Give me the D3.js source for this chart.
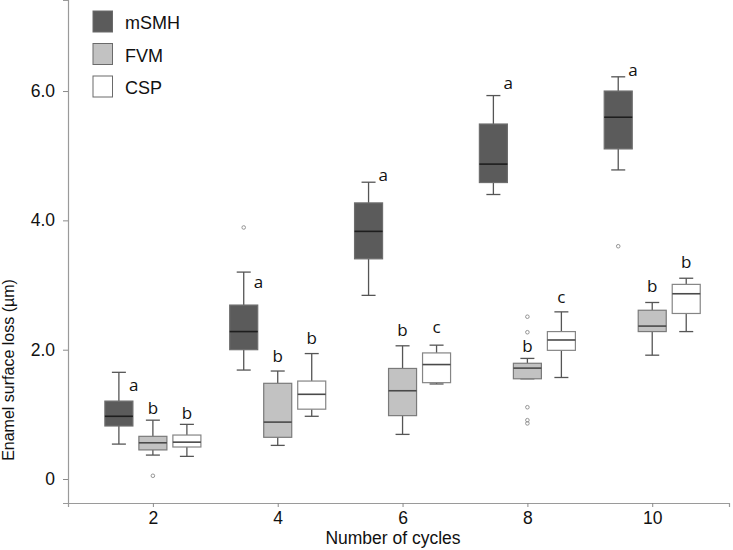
<!DOCTYPE html>
<html>
<head>
<meta charset="utf-8">
<script src="https://cdn.jsdelivr.net/npm/d3@7"></script>
<style>
  html, body { margin: 0; padding: 0; background: #fff; }
  svg { display: block; }
</style>
</head>
<body>
<svg id="chart" width="733" height="550"></svg>
<script>
// ---------------- data ----------------
const cycles = [2, 4, 6, 8, 10];
const seriesNames = ["mSMH", "FVM", "CSP"];
const yTicks = [0, 2, 4, 6];

// mSMH
const mSMH_low    = [0.54, 1.685, 2.84, 4.40, 4.78];
const mSMH_q1     = [0.82, 2.00, 3.405, 4.585, 5.105];
const mSMH_median = [0.97, 2.28, 3.83, 4.87, 5.595];
const mSMH_q3     = [1.205, 2.69, 4.27, 5.49, 6.00];
const mSMH_high   = [1.65, 3.20, 4.59, 5.93, 6.22];
const mSMH_out    = [[], [3.89], [], [], [3.60]];
const mSMH_letter = ["a", "a", "a", "a", "a"];
const mSMH_letterY = [1.36, 2.95, 4.61, 6.03, 6.23];

// FVM
const FVM_low    = [0.37, 0.52, 0.69, 1.55, 1.915];
const FVM_q1     = [0.45, 0.645, 0.98, 1.55, 2.28];
const FVM_median = [0.56, 0.88, 1.365, 1.715, 2.365];
const FVM_q3     = [0.66, 1.48, 1.71, 1.79, 2.61];
const FVM_high   = [0.91, 1.67, 2.06, 1.865, 2.73];
const FVM_out    = [[0.05], [], [], [2.51, 2.27, 1.11, 0.91, 0.86], []];
const FVM_letter = ["b", "b", "b", "b", "b"];
const FVM_letterY = [1.005, 1.81, 2.21, 1.96, 2.89];

// CSP
const CSP_low    = [0.35, 0.97, 1.47, 1.57, 2.28];
const CSP_q1     = [0.495, 1.08, 1.49, 1.99, 2.56];
const CSP_median = [0.57, 1.31, 1.77, 2.15, 2.865];
const CSP_q3     = [0.68, 1.515, 1.95, 2.28, 3.01];
const CSP_high   = [0.845, 1.94, 2.07, 2.585, 3.105];
const CSP_out    = [[], [], [], [], []];
const CSP_letter = ["b", "b", "c", "c", "b"];
const CSP_letterY = [0.93, 2.09, 2.26, 2.72, 3.26];

// ---------------- build ----------------
const seriesData = [
  {name: "mSMH", low: mSMH_low, q1: mSMH_q1, med: mSMH_median, q3: mSMH_q3, high: mSMH_high, out: mSMH_out, letter: mSMH_letter, letterY: mSMH_letterY},
  {name: "FVM",  low: FVM_low,  q1: FVM_q1,  med: FVM_median,  q3: FVM_q3,  high: FVM_high,  out: FVM_out,  letter: FVM_letter,  letterY: FVM_letterY},
  {name: "CSP",  low: CSP_low,  q1: CSP_q1,  med: CSP_median,  q3: CSP_q3,  high: CSP_high,  out: CSP_out,  letter: CSP_letter,  letterY: CSP_letterY}
];

const style = {
  mSMH: {fill: "#5b5b5b", stroke: "#6e6e6e", median: "#1e1e1e", letterDx: 10, anchor: "start"},
  FVM:  {fill: "#c2c2c2", stroke: "#7a7a7a", median: "#4a4a4a", letterDx: 0, anchor: "middle"},
  CSP:  {fill: "#ffffff", stroke: "#858585", median: "#4a4a4a", letterDx: 0, anchor: "middle"}
};

const svg = d3.select("#chart");
const axisFont = "'Liberation Sans', Arial, Helvetica, sans-serif";

const x = d3.scaleLinear().domain([0.64, 11.23]).range([68, 729]);
const y = d3.scaleLinear().domain([-0.371, 7.408]).range([503, 0]);
const sub = d3.scaleBand().domain(seriesNames).range([-51, 51]).paddingInner(0.176).paddingOuter(0.088);
const bw = sub.bandwidth();

// axes
const xAxis = svg.append("g").attr("transform", "translate(0,503)")
  .call(d3.axisBottom(x).tickValues(cycles).tickSize(4).tickPadding(5).tickFormat(d3.format("d")));
const yAxis = svg.append("g").attr("transform", "translate(68,0)")
  .call(d3.axisLeft(y).tickValues(yTicks).tickSize(5).tickPadding(8)
    .tickFormat(d => d === 0 ? "0" : d3.format(".1f")(d)));
[xAxis, yAxis].forEach(g => {
  g.selectAll("path.domain").attr("stroke", "#9a9a9a").attr("stroke-width", 1.2);
  g.selectAll(".tick line").attr("stroke", "#8a8a8a");
  g.selectAll(".tick text").attr("fill", "#111").style("font-family", axisFont).style("font-size", "17.5px");
});

svg.append("text").attr("x", 393).attr("y", 544).attr("text-anchor", "middle")
  .style("font-family", axisFont).style("font-size", "17.5px").attr("fill", "#111")
  .text("Number of cycles");
svg.append("text").attr("transform", "translate(14,370) rotate(-90)").attr("text-anchor", "middle")
  .style("font-family", axisFont).style("font-size", "16px").attr("fill", "#111")
  .text("Enamel surface loss (µm)");

// boxes
const plot = svg.append("g");
seriesData.forEach(s => {
  const st = style[s.name];
  cycles.forEach((c, i) => {
    const cx = x(c) + sub(s.name) + bw / 2;
    const g = plot.append("g");
    // whiskers
    g.append("line").attr("x1", cx).attr("x2", cx).attr("y1", y(s.high[i])).attr("y2", y(s.q3[i]))
      .attr("stroke", "#555").attr("stroke-width", 1.3);
    g.append("line").attr("x1", cx).attr("x2", cx).attr("y1", y(s.q1[i])).attr("y2", y(s.low[i]))
      .attr("stroke", "#555").attr("stroke-width", 1.3);
    [s.high[i], s.low[i]].forEach(v => {
      g.append("line").attr("x1", cx - bw / 4).attr("x2", cx + bw / 4).attr("y1", y(v)).attr("y2", y(v))
        .attr("stroke", "#555").attr("stroke-width", 1.3);
    });
    // box
    g.append("rect").attr("x", cx - bw / 2).attr("width", bw)
      .attr("y", y(s.q3[i])).attr("height", Math.max(0.5, y(s.q1[i]) - y(s.q3[i])))
      .attr("fill", st.fill).attr("stroke", st.stroke).attr("stroke-width", 1.2);
    // median
    g.append("line").attr("x1", cx - bw / 2).attr("x2", cx + bw / 2)
      .attr("y1", y(s.med[i])).attr("y2", y(s.med[i]))
      .attr("stroke", st.median).attr("stroke-width", 1.6);
    // outliers
    s.out[i].forEach(v => {
      g.append("circle").attr("cx", cx).attr("cy", y(v)).attr("r", 1.8)
        .attr("fill", "none").attr("stroke", "#8a8a8a").attr("stroke-width", 0.9);
    });
    // letters
    g.append("text").attr("x", cx + st.letterDx).attr("y", y(s.letterY[i]))
      .attr("text-anchor", st.anchor)
      .style("font-family", "'Open Sans', 'Liberation Sans', sans-serif").style("font-size", "17px")
      .attr("fill", "#111").text(s.letter[i]);
  });
});

// legend
const legend = svg.append("g");
seriesNames.forEach((n, i) => {
  const yy = 11 + i * 32.5;
  legend.append("rect").attr("x", 93).attr("y", yy).attr("width", 19.5).attr("height", 21)
    .attr("fill", style[n].fill).attr("stroke", "#6a6a6a").attr("stroke-width", 1);
  legend.append("text").attr("x", 125).attr("y", yy + 18.3)
    .style("font-family", axisFont).style("font-size", "18px").attr("fill", "#111").text(n);
});
</script>
</body>
</html>
